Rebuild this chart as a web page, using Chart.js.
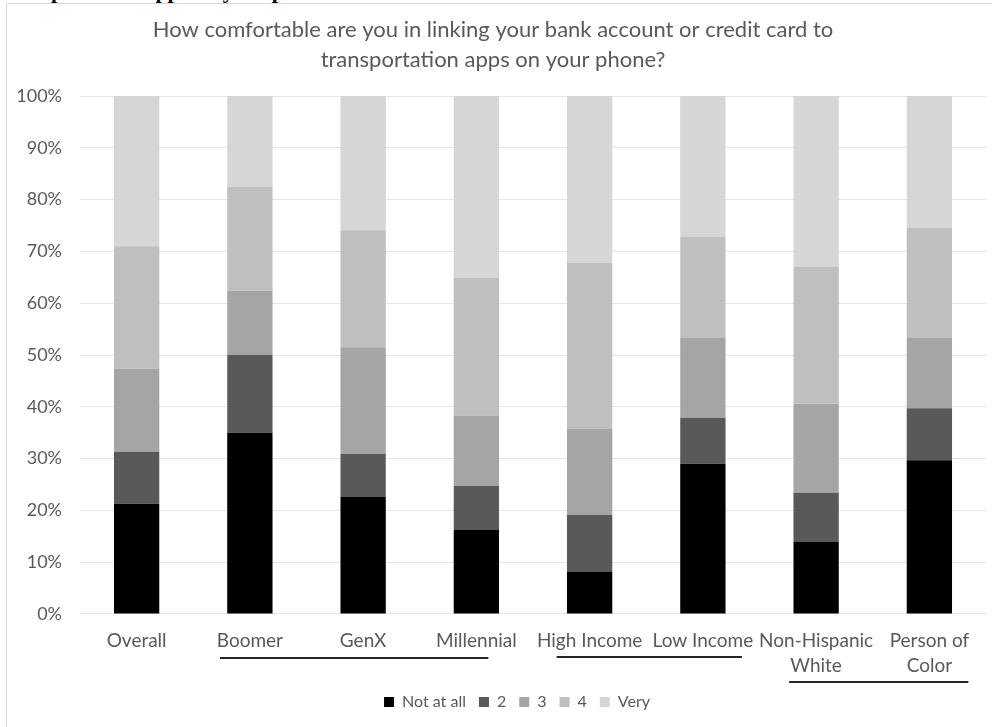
<!DOCTYPE html>
<html>
<head>
<meta charset="utf-8">
<script src="https://cdn.jsdelivr.net/npm/chart.js@4.4.1/dist/chart.umd.min.js"></script>
<style>
  html, body { margin: 0; padding: 0; background: #ffffff; }
  #wrap { position: relative; width: 992px; height: 727px; overflow: hidden; }
  #frame { position: absolute; left: 6px; top: 3px; width: 1000px; height: 740px; border: 1px solid #d9d9d9; box-sizing: border-box; }
  #doctext { position: absolute; left: 2px; top: -22px; font-family: "Liberation Serif", serif; font-weight: bold; font-size: 22px; color: #000; white-space: nowrap; }
  canvas { position: absolute; left: 0; top: 0; }
</style>
</head>
<body>
<div id="wrap">
  <div id="doctext">transportation apps on your phone?</div>
  <div id="frame"></div>
  <canvas id="c" width="992" height="727"></canvas>
</div>
<script>
const categories = ['Overall', 'Boomer', 'GenX', 'Millennial', 'High Income', 'Low Income', ['Non-Hispanic', 'White'], ['Person of', 'Color']];
const seriesNames = ['Not at all', '2', '3', '4', 'Very'];
const notAtAll = [21.3, 35.0, 22.6, 16.2, 8.2, 29.0, 13.9, 29.7];
const two      = [10.0, 15.0, 8.3, 8.5, 10.9, 8.9, 9.5, 10.0];
const three    = [16.1, 12.4, 20.6, 13.6, 16.7, 15.4, 17.2, 13.6];
const four     = [23.6, 20.1, 22.6, 26.6, 32.0, 19.5, 26.4, 21.2];
const very     = [29.0, 17.5, 25.9, 35.1, 32.2, 27.2, 33.0, 25.5];
const yTicks = [0, 10, 20, 30, 40, 50, 60, 70, 80, 90, 100];
const groupUnderlines = [
  { from: 1, to: 3, left: -30, right: 12, dy: 44 },
  { from: 4, to: 5, left: -33, right: 39, dy: 43 },
  { from: 6, to: 7, left: -27, right: 39, dy: 68 }
];

const colors = ['#000000', '#595959', '#a5a5a5', '#bfbfbf', '#d6d6d6'];
const seriesValues = [notAtAll, two, three, four, very];

const underlinePlugin = {
  id: 'groupUnderlines',
  afterLayout(chart) {
    // legend sits slightly right of centre and close under the axis labels
    const lg = chart.legend;
    lg.left += 48;
    const h = lg.bottom - lg.top;
    lg.top = chart.chartArea.bottom + 67;
    lg.bottom = lg.top + h;
  },
  afterDraw(chart) {
    const ctx = chart.ctx;
    const xs = chart.scales.x;
    const bottom = chart.chartArea.bottom;
    ctx.save();
    ctx.strokeStyle = '#262626';
    ctx.lineWidth = 2;
    groupUnderlines.forEach(g => {
      const x1 = xs.getPixelForValue(g.from) + g.left;
      const x2 = xs.getPixelForValue(g.to) + g.right;
      const y = bottom + g.dy;
      ctx.beginPath();
      ctx.moveTo(x1, y);
      ctx.lineTo(x2, y);
      ctx.stroke();
    });
    ctx.restore();
  }
};

const font = 'Lato';
new Chart(document.getElementById('c'), {
  type: 'bar',
  data: {
    labels: categories,
    datasets: seriesNames.map((n, i) => ({
      label: n,
      data: seriesValues[i],
      backgroundColor: colors[i],
      borderWidth: 0,
      barPercentage: 0.4,
      categoryPercentage: 1.0
    }))
  },
  options: {
    responsive: false,
    animation: false,
    devicePixelRatio: 1,
    layout: { padding: { left: 0, right: 6, top: 0, bottom: 10 } },
    plugins: {
      title: {
        display: true,
        text: ['How comfortable are you in linking your bank account or credit card to', 'transportation apps on your phone?'],
        color: '#595959',
        font: { family: font, size: 22, weight: 'normal', lineHeight: 1.364 },
        padding: { top: 15, bottom: 21 }
      },
      legend: {
        position: 'bottom',
        labels: {
          color: '#595959',
          font: { family: font, size: 16 },
          boxWidth: 10,
          boxHeight: 10,
          padding: 13
        }
      },
      tooltip: { enabled: false }
    },
    scales: {
      x: {
        stacked: true,
        grid: { display: false, drawTicks: false },
        border: { display: true, color: '#e6e6e6' },
        afterFit(scale) { scale.height = 64; },
        ticks: {
          color: '#595959',
          font: { family: font, size: 19, lineHeight: 1.3 },
          padding: 15,
          maxRotation: 0,
          autoSkip: false
        }
      },
      y: {
        stacked: true,
        min: 0,
        max: 100,
        afterFit(scale) { scale.width = 80; },
        afterBuildTicks(scale) { scale.ticks = yTicks.map(v => ({ value: v })); },
        grid: { color: '#e6e6e6', drawTicks: false },
        border: { display: false },
        ticks: {
          color: '#595959',
          font: { family: font, size: 18 },
          padding: 18,
          callback: v => v + '%'
        }
      }
    }
  },
  plugins: [underlinePlugin]
});
</script>
</body>
</html>
